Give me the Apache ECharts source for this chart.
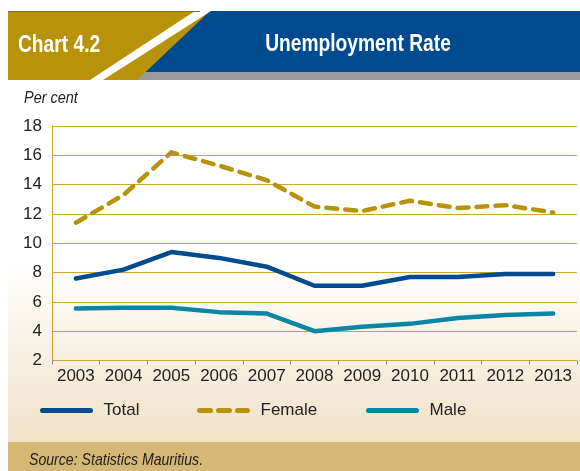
<!DOCTYPE html>
<html><head><meta charset="utf-8">
<script src="https://cdn.jsdelivr.net/npm/echarts@6/dist/echarts.min.js"></script>
<style>html,body{margin:0;padding:0;background:#fff}#c{width:580px;height:471px}</style>
</head><body><div id="c"></div>
<script>
const years = ['2003','2004','2005','2006','2007','2008','2009','2010','2011','2012','2013'];
const totalRate  = [7.6, 8.2, 9.4, 9.0, 8.4, 7.1, 7.1, 7.7, 7.7, 7.9, 7.9];
const femaleRate = [11.4, 13.3, 16.2, 15.3, 14.3, 12.5, 12.2, 12.9, 12.4, 12.6, 12.1];
const maleRate   = [5.55, 5.6, 5.6, 5.3, 5.2, 4.0, 4.3, 4.5, 4.9, 5.1, 5.2];
const yTicks = [2, 18, 2]; // min, max, interval

const F = '"Liberation Sans",Arial,sans-serif';
const C_TOTAL = '#004b8e', C_FEMALE = '#b8930a', C_MALE = '#0b84a5';
const chart = echarts.init(document.getElementById('c'), null, {renderer:'canvas'});
const legendBase = {top:402, padding:0, itemWidth:48, itemHeight:12, itemStyle:{opacity:0}, lineStyle:{width:5},
  textStyle:{fontFamily:F,fontSize:17,color:'#222',padding:[0,0,0,8]}};
chart.setOption({
  animation:false,
  backgroundColor:'#ffffff',
  graphic:[
    {type:'rect', z:-10, shape:{x:8,y:80,width:572,height:362},
     style:{fill:{type:'linear',x:0,y:0,x2:0,y2:1,colorStops:[{offset:0,color:'#ffffff'},{offset:0.5,color:'#ffffff'},{offset:1,color:'#efe2c8'}]}}},
    {type:'rect', z:-10, shape:{x:8,y:442,width:572,height:29}, style:{fill:'#d6b874'}},
    {type:'rect', z:-10, shape:{x:8,y:11,width:300,height:69}, style:{fill:'#b8930a'}},
    {type:'polygon', z:-9, shape:{points:[[210,11],[580,11],[580,72],[145.5,72]]}, style:{fill:'#004b8e'}},
    {type:'polygon', z:-9, shape:{points:[[145.5,72],[580,72],[580,80],[137,80]]}, style:{fill:'#9b9b9d'}},
    {type:'polygon', z:-8, shape:{points:[[195,11],[211,11],[103,80],[90,80]]}, style:{fill:'#ffffff'}},
    {type:'line', z:-8, shape:{x1:8,y1:11.5,x2:200,y2:11.5}, style:{stroke:'#6e6a5a',lineWidth:1}},
    {type:'text', x:18, y:45, scaleX:0.8, originX:0, originY:0, style:{text:'Chart 4.2', fill:'#fff', font:'bold 24px '+F, textVerticalAlign:'middle'}},
    {type:'text', x:358, y:44, scaleX:0.8, originX:0, originY:0, style:{text:'Unemployment Rate', fill:'#fff', font:'bold 24px '+F, textAlign:'center', textVerticalAlign:'middle'}},
    {type:'text', x:24, y:98, scaleX:0.85, originX:0, originY:0, style:{text:'Per cent', fill:'#222', font:'italic 17px '+F, textVerticalAlign:'middle'}},
    {type:'text', x:29, y:460, scaleX:0.83, originX:0, originY:0, style:{text:'Source: Statistics Mauritius.', fill:'#222', font:'italic 17px '+F, textVerticalAlign:'middle'}}
  ],
  grid:{left:52, right:3, top:126, bottom:110.5, containLabel:false},
  legend:[
    Object.assign({left:40, data:['Total']}, legendBase),
    Object.assign({left:197, data:['Female']}, legendBase),
    Object.assign({left:366, data:['Male']}, legendBase)
  ],
  xAxis:{type:'category', data:years, boundaryGap:true,
    axisLine:{show:false},
    axisTick:{show:true, alignWithLabel:false, length:4, lineStyle:{color:'#8a8a8a'}},
    axisLabel:{interval:0, fontFamily:F, fontSize:17, color:'#222', margin:7}},
  yAxis:{type:'value', min:yTicks[0], max:yTicks[1], interval:yTicks[2],
    axisLine:{show:true, lineStyle:{color:'#c9a534', width:1.2}},
    axisTick:{show:false},
    axisLabel:{fontFamily:F, fontSize:17, color:'#222', margin:10},
    splitLine:{lineStyle:{color:'#c9a534', width:1.2}}},
  series:[
    {name:'Total', type:'line', data:totalRate, symbol:'none', color:C_TOTAL, lineStyle:{width:4.5, color:C_TOTAL, cap:'round', join:'round'}},
    {name:'Female', type:'line', data:femaleRate, symbol:'none', color:C_FEMALE, lineStyle:{width:4.5, color:C_FEMALE, type:[11,8], cap:'round', join:'round'}},
    {name:'Male', type:'line', data:maleRate, symbol:'none', color:C_MALE, lineStyle:{width:4.5, color:C_MALE, cap:'round', join:'round'}}
  ]
});
</script></body></html>
